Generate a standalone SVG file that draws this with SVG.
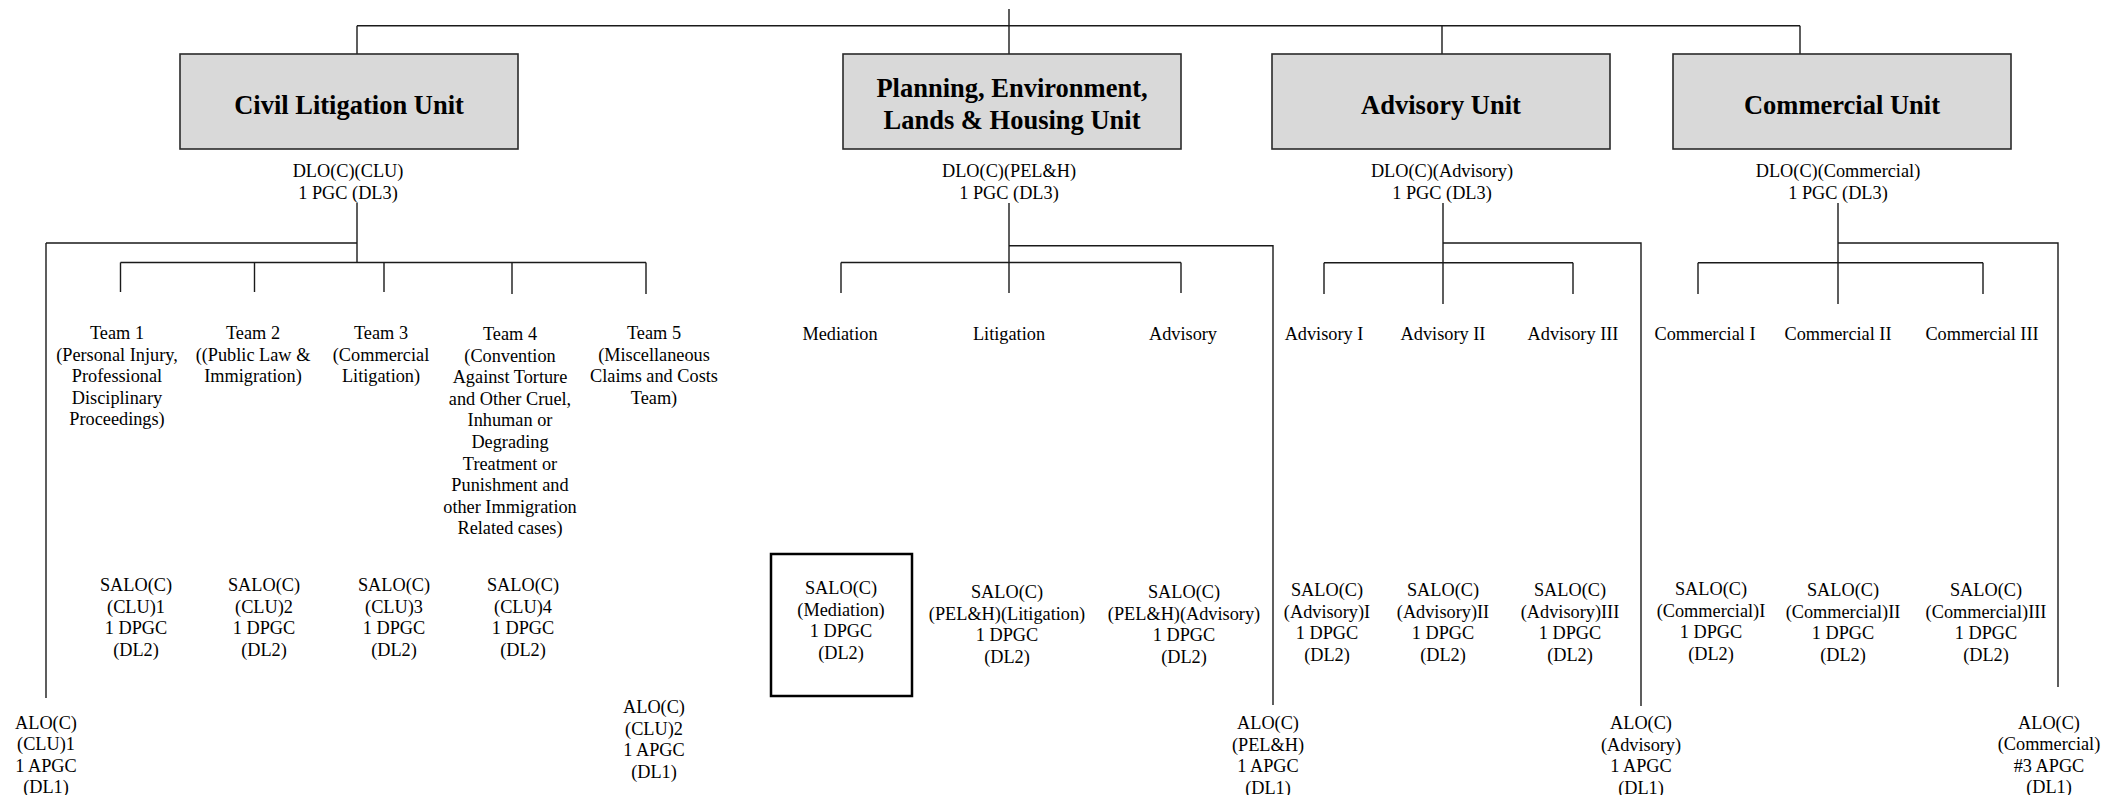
<svg xmlns="http://www.w3.org/2000/svg" width="2111" height="795" viewBox="0 0 2111 795">
<style>
text{font-family:"Liberation Serif","Times New Roman",serif;font-size:18.3px;fill:#000;text-anchor:middle}
.t{font-weight:bold;font-size:26.5px}
.unit{fill:#d9d9d9;stroke:#2a2a2a;stroke-width:1.6}
.hl{fill:none;stroke:#000;stroke-width:2.5}
#connectors path{fill:none;stroke:#1a1a1a;stroke-width:1.4}
</style>
<rect width="2111" height="795" fill="#fff"/>
<g id="connectors">
<path d="M1009 9V54M357 25.7H1800M357 25.7V54M1442 25.7V54M1800 25.7V54"/>
<path d="M357 203V262.5M46 243H357M46 243V698M120.5 262.5H646M120.5 262.5V292M254.5 262.5V292M384 262.5V292M512 262.5V294M646 262.5V294"/>
<path d="M1009 203V293M1009 245.7H1273V705M841 262.5H1181M841 262.5V293M1181 262.5V293"/>
<path d="M1443 203V304M1443 243H1641V706M1324 262.7H1573M1324 262.7V294M1573 262.7V294"/>
<path d="M1838 203V304M1838 243H2058V687M1698 262.7H1983M1698 262.7V294M1983 262.7V294"/>
</g>
<g id="clu">
<rect class="unit" x="180" y="54" width="338" height="95"/>
<text class="t" x="349" y="114">Civil Litigation Unit</text>
</g>
<g id="clu-dlo"><text x="348" y="177">DLO(C)(CLU)<tspan x="348" dy="21.5">1 PGC (DL3)</tspan></text></g>
<g id="pel">
<rect class="unit" x="843" y="54" width="338" height="95"/>
<text class="t" x="1012" y="97">Planning, Environment,<tspan x="1012" dy="32">Lands &amp; Housing Unit</tspan></text>
</g>
<g id="pel-dlo"><text x="1009" y="177">DLO(C)(PEL&amp;H)<tspan x="1009" dy="21.5">1 PGC (DL3)</tspan></text></g>
<g id="adv">
<rect class="unit" x="1272" y="54" width="338" height="95"/>
<text class="t" x="1441" y="114">Advisory Unit</text>
</g>
<g id="adv-dlo"><text x="1442" y="177">DLO(C)(Advisory)<tspan x="1442" dy="21.5">1 PGC (DL3)</tspan></text></g>
<g id="com">
<rect class="unit" x="1673" y="54" width="338" height="95"/>
<text class="t" x="1842" y="114">Commercial Unit</text>
</g>
<g id="com-dlo"><text x="1838" y="177">DLO(C)(Commercial)<tspan x="1838" dy="21.5">1 PGC (DL3)</tspan></text></g>

<g id="team1"><text x="117" y="339">Team 1<tspan x="117" dy="21.6">(Personal Injury,</tspan><tspan x="117" dy="21.6">Professional</tspan><tspan x="117" dy="21.6">Disciplinary</tspan><tspan x="117" dy="21.6">Proceedings)</tspan></text></g>
<g id="team2"><text x="253" y="339">Team 2<tspan x="253" dy="21.6">((Public Law &amp;</tspan><tspan x="253" dy="21.6">Immigration)</tspan></text></g>
<g id="team3"><text x="381" y="339">Team 3<tspan x="381" dy="21.6">(Commercial</tspan><tspan x="381" dy="21.6">Litigation)</tspan></text></g>
<g id="team4"><text x="510" y="340">Team 4<tspan x="510" dy="21.6">(Convention</tspan><tspan x="510" dy="21.6">Against Torture</tspan><tspan x="510" dy="21.6">and Other Cruel,</tspan><tspan x="510" dy="21.6">Inhuman or</tspan><tspan x="510" dy="21.6">Degrading</tspan><tspan x="510" dy="21.6">Treatment or</tspan><tspan x="510" dy="21.6">Punishment and</tspan><tspan x="510" dy="21.6">other Immigration</tspan><tspan x="510" dy="21.6">Related cases)</tspan></text></g>
<g id="team5"><text x="654" y="339">Team 5<tspan x="654" dy="21.6">(Miscellaneous</tspan><tspan x="654" dy="21.6">Claims and Costs</tspan><tspan x="654" dy="21.6">Team)</tspan></text></g>

<g id="salo-clu1"><text x="136" y="591">SALO(C)<tspan x="136" dy="21.6">(CLU)1</tspan><tspan x="136" dy="21.6">1 DPGC</tspan><tspan x="136" dy="21.6">(DL2)</tspan></text></g>
<g id="salo-clu2"><text x="264" y="591">SALO(C)<tspan x="264" dy="21.6">(CLU)2</tspan><tspan x="264" dy="21.6">1 DPGC</tspan><tspan x="264" dy="21.6">(DL2)</tspan></text></g>
<g id="salo-clu3"><text x="394" y="591">SALO(C)<tspan x="394" dy="21.6">(CLU)3</tspan><tspan x="394" dy="21.6">1 DPGC</tspan><tspan x="394" dy="21.6">(DL2)</tspan></text></g>
<g id="salo-clu4"><text x="523" y="591">SALO(C)<tspan x="523" dy="21.6">(CLU)4</tspan><tspan x="523" dy="21.6">1 DPGC</tspan><tspan x="523" dy="21.6">(DL2)</tspan></text></g>
<g id="alo-clu1"><text x="46" y="729">ALO(C)<tspan x="46" dy="21.3">(CLU)1</tspan><tspan x="46" dy="21.3">1 APGC</tspan><tspan x="46" dy="21.3">(DL1)</tspan></text></g>
<g id="alo-clu2"><text x="654" y="713">ALO(C)<tspan x="654" dy="21.5">(CLU)2</tspan><tspan x="654" dy="21.5">1 APGC</tspan><tspan x="654" dy="21.5">(DL1)</tspan></text></g>

<g id="mediation"><text x="840" y="340">Mediation</text></g>
<g id="litigation"><text x="1009" y="340">Litigation</text></g>
<g id="advisory"><text x="1183" y="340">Advisory</text></g>
<g id="salo-med">
<rect class="hl" x="771" y="554" width="141" height="142"/>
<text x="841" y="594">SALO(C)<tspan x="841" dy="21.6">(Mediation)</tspan><tspan x="841" dy="21.6">1 DPGC</tspan><tspan x="841" dy="21.6">(DL2)</tspan></text>
</g>
<g id="salo-pel-lit"><text x="1007" y="598">SALO(C)<tspan x="1007" dy="21.6">(PEL&amp;H)(Litigation)</tspan><tspan x="1007" dy="21.6">1 DPGC</tspan><tspan x="1007" dy="21.6">(DL2)</tspan></text></g>
<g id="salo-pel-adv"><text x="1184" y="598">SALO(C)<tspan x="1184" dy="21.6">(PEL&amp;H)(Advisory)</tspan><tspan x="1184" dy="21.6">1 DPGC</tspan><tspan x="1184" dy="21.6">(DL2)</tspan></text></g>
<g id="alo-pel"><text x="1268" y="729">ALO(C)<tspan x="1268" dy="21.5">(PEL&amp;H)</tspan><tspan x="1268" dy="21.5">1 APGC</tspan><tspan x="1268" dy="21.5">(DL1)</tspan></text></g>

<g id="advisory1"><text x="1324" y="340">Advisory I</text></g>
<g id="advisory2"><text x="1443" y="340">Advisory II</text></g>
<g id="advisory3"><text x="1573" y="340">Advisory III</text></g>
<g id="salo-adv1"><text x="1327" y="596">SALO(C)<tspan x="1327" dy="21.6">(Advisory)I</tspan><tspan x="1327" dy="21.6">1 DPGC</tspan><tspan x="1327" dy="21.6">(DL2)</tspan></text></g>
<g id="salo-adv2"><text x="1443" y="596">SALO(C)<tspan x="1443" dy="21.6">(Advisory)II</tspan><tspan x="1443" dy="21.6">1 DPGC</tspan><tspan x="1443" dy="21.6">(DL2)</tspan></text></g>
<g id="salo-adv3"><text x="1570" y="596">SALO(C)<tspan x="1570" dy="21.6">(Advisory)III</tspan><tspan x="1570" dy="21.6">1 DPGC</tspan><tspan x="1570" dy="21.6">(DL2)</tspan></text></g>
<g id="alo-adv"><text x="1641" y="729">ALO(C)<tspan x="1641" dy="21.5">(Advisory)</tspan><tspan x="1641" dy="21.5">1 APGC</tspan><tspan x="1641" dy="21.5">(DL1)</tspan></text></g>

<g id="commercial1"><text x="1705" y="340">Commercial I</text></g>
<g id="commercial2"><text x="1838" y="340">Commercial II</text></g>
<g id="commercial3"><text x="1982" y="340">Commercial III</text></g>
<g id="salo-com1"><text x="1711" y="595">SALO(C)<tspan x="1711" dy="21.6">(Commercial)I</tspan><tspan x="1711" dy="21.6">1 DPGC</tspan><tspan x="1711" dy="21.6">(DL2)</tspan></text></g>
<g id="salo-com2"><text x="1843" y="596">SALO(C)<tspan x="1843" dy="21.6">(Commercial)II</tspan><tspan x="1843" dy="21.6">1 DPGC</tspan><tspan x="1843" dy="21.6">(DL2)</tspan></text></g>
<g id="salo-com3"><text x="1986" y="596">SALO(C)<tspan x="1986" dy="21.6">(Commercial)III</tspan><tspan x="1986" dy="21.6">1 DPGC</tspan><tspan x="1986" dy="21.6">(DL2)</tspan></text></g>
<g id="alo-com"><text x="2049" y="729">ALO(C)<tspan x="2049" dy="21.3">(Commercial)</tspan><tspan x="2049" dy="21.3">#3 APGC</tspan><tspan x="2049" dy="21.3">(DL1)</tspan></text></g>
</svg>
